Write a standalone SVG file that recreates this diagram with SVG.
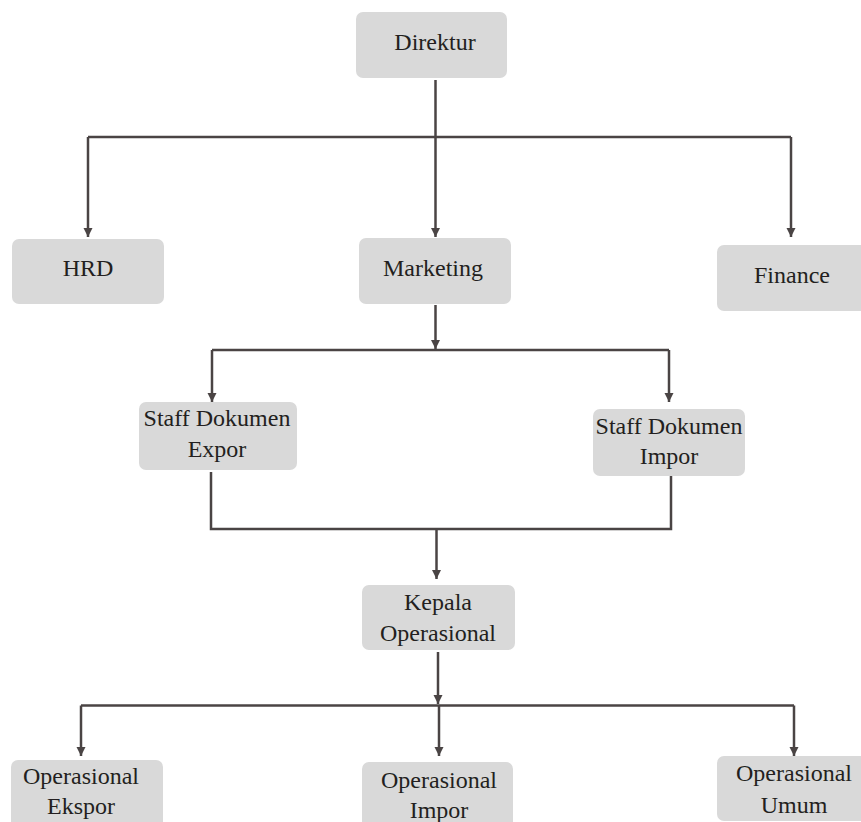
<svg xmlns="http://www.w3.org/2000/svg" width="861" height="822" viewBox="0 0 861 822">
<style>
.box{fill:#d9d9d9}
.t{font-family:'Liberation Serif','Times New Roman',serif;font-size:24px;fill:#231f20;text-anchor:middle}
.c{fill:none;stroke:#4a4444;stroke-width:2.5}
</style>
<defs>
<marker id="a" viewBox="0 0 10 10" refX="10" refY="5" markerWidth="9" markerHeight="10" markerUnits="userSpaceOnUse" orient="auto">
<path d="M0,0 L10,5 L0,10 Z" fill="#4a4444"/>
</marker>
</defs>
<rect width="861" height="822" fill="#ffffff"/>
<g id="connectors">
<path class="c" d="M435.5,80 V137"/>
<path class="c" d="M88,137 H791"/>
<path class="c" d="M88,137 V237" marker-end="url(#a)"/>
<path class="c" d="M435.5,137 V237" marker-end="url(#a)"/>
<path class="c" d="M791,137 V237" marker-end="url(#a)"/>
<path class="c" d="M435.5,305 V349" marker-end="url(#a)"/>
<path class="c" d="M212,350 H669"/>
<path class="c" d="M212,350 V402" marker-end="url(#a)"/>
<path class="c" d="M669,350 V402" marker-end="url(#a)"/>
<path class="c" d="M211,472 V529 H671 V472"/>
<path class="c" d="M436.5,529 V579" marker-end="url(#a)"/>
<path class="c" d="M438,652 V704" marker-end="url(#a)"/>
<path class="c" d="M81,705.5 H794"/>
<path class="c" d="M81,705.5 V756" marker-end="url(#a)"/>
<path class="c" d="M439,705.5 V756" marker-end="url(#a)"/>
<path class="c" d="M794,705.5 V756" marker-end="url(#a)"/>
</g>
<g id="direktur">
<rect class="box" x="356" y="12" width="151" height="66" rx="7"/>
<text class="t" x="435" y="50">Direktur</text>
</g>
<g id="hrd">
<rect class="box" x="12" y="239" width="152" height="65" rx="7"/>
<text class="t" x="88" y="276">HRD</text>
</g>
<g id="marketing">
<rect class="box" x="359" y="238" width="152" height="66" rx="7"/>
<text class="t" x="433" y="276">Marketing</text>
</g>
<g id="finance">
<rect class="box" x="717" y="245" width="150" height="66" rx="7"/>
<text class="t" x="792" y="283">Finance</text>
</g>
<g id="staff-expor">
<rect class="box" x="139" y="402" width="158" height="68" rx="7"/>
<text class="t" x="217" y="426">Staff Dokumen</text>
<text class="t" x="217" y="457">Expor</text>
</g>
<g id="staff-impor">
<rect class="box" x="593" y="409" width="152" height="67" rx="7"/>
<text class="t" x="669" y="434">Staff Dokumen</text>
<text class="t" x="669" y="464">Impor</text>
</g>
<g id="kepala">
<rect class="box" x="362" y="585" width="153" height="65" rx="7"/>
<text class="t" x="438" y="610">Kepala</text>
<text class="t" x="438" y="641">Operasional</text>
</g>
<g id="op-ekspor">
<rect class="box" x="11" y="760" width="152" height="70" rx="7"/>
<text class="t" x="81" y="784">Operasional</text>
<text class="t" x="81" y="814">Ekspor</text>
</g>
<g id="op-impor">
<rect class="box" x="362" y="762" width="151" height="70" rx="7"/>
<text class="t" x="439" y="788">Operasional</text>
<text class="t" x="439" y="818">Impor</text>
</g>
<g id="op-umum">
<rect class="box" x="717" y="756" width="150" height="65" rx="7"/>
<text class="t" x="794" y="781">Operasional</text>
<text class="t" x="794" y="813">Umum</text>
</g>
</svg>
